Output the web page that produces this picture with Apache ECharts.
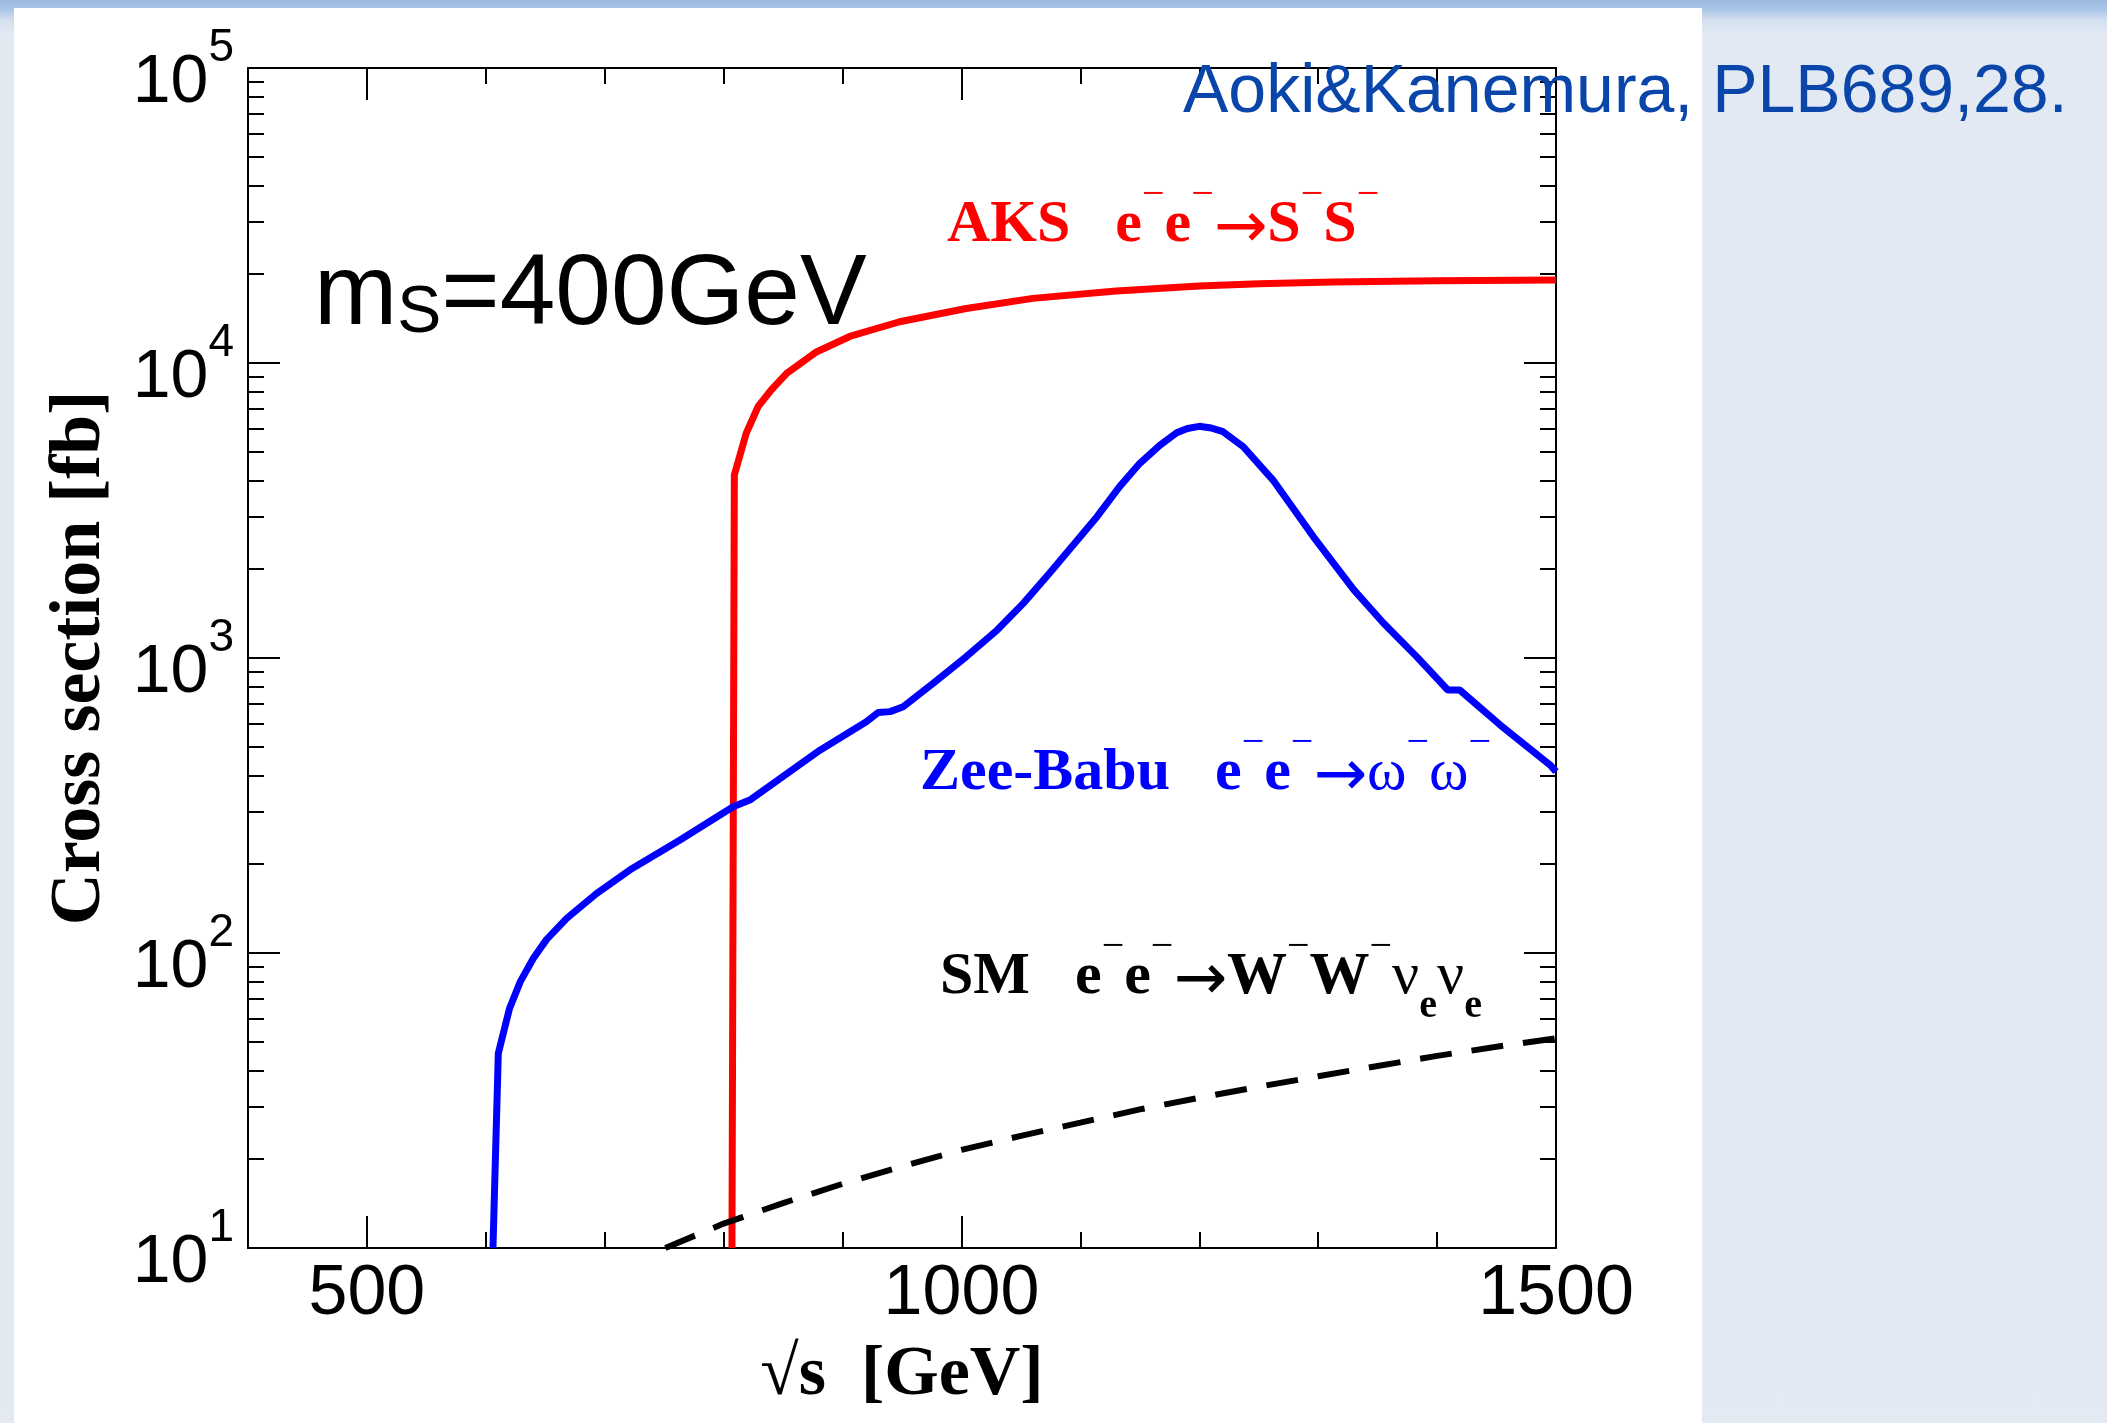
<!DOCTYPE html>
<html>
<head>
<meta charset="utf-8">
<script src="https://cdn.jsdelivr.net/npm/echarts@6/dist/echarts.min.js"></script>
<style>
	html, body { margin: 0; padding: 0; }
	body {
		width: 2107px; height: 1423px; overflow: hidden; position: relative;
		background: linear-gradient(to bottom, #9cbae2 0px, #a6c3e7 8px, #d3dfef 20px, #e2e9f3 34px, #e4eaf4 100%);
	}
	#panel { position: absolute; left: 14px; top: 8px; width: 1688px; height: 1415px; background: #fff; }
	#chart { position: absolute; left: 0; top: 0; width: 2107px; height: 1423px; }
</style>
</head>
<body>
<div id="panel"></div>
<div id="chart"></div>
<script>
/*
 * cross sections vs sqrt(s), m_S = 400 GeV
 */
var aksData = [[807, 10], [809, 4170], [819, 5780], [829, 7120], [840, 8100], [853, 9220], [878, 10900],
	[906, 12300], [948, 13800], [1004, 15300], [1060, 16560], [1130, 17550], [1200, 18250],
	[1250, 18550], [1312, 18800], [1400, 18990], [1500, 19100]];

var zeeBabuData = [[606, 10], [610.5, 45.7], [620, 65], [629, 80], [640, 96], [651, 111], [668, 131],
	[693, 159], [721, 191], [763, 241], [808, 313], [822, 330], [881, 487], [920, 608], [930, 653],
	[940, 658], [951, 684], [976, 820], [1004, 1010], [1030, 1244], [1052, 1532], [1074, 1937],
	[1094, 2415], [1114, 3014], [1133, 3810], [1150, 4570], [1167, 5270], [1181, 5800], [1190, 6000],
	[1200, 6100], [1210, 6020], [1220, 5850], [1237, 5200], [1262, 4010], [1296, 2575], [1330, 1702],
	[1355, 1312], [1383, 1009], [1409, 779], [1419, 779], [1453, 593], [1495, 434], [1500, 412]];

var smData = [[751, 10], [800, 12.1], [850, 14.2], [900, 16.5], [950, 18.9], [1000, 21.5], [1050, 24.0],
	[1100, 26.6], [1150, 29.5], [1200, 32.3], [1250, 35.2], [1300, 38.2], [1350, 41.4], [1400, 44.8],
	[1450, 48.1], [1500, 51.4]];

var xTickLabels = [500, 1000, 1500];
var yTickValues = [10, 100, 1000, 10000, 100000];
var yTickExps = ['1', '2', '3', '4', '5'];
var yMinorTicks = [20, 30, 40, 50, 60, 70, 80, 90, 200, 300, 400, 500, 600, 700, 800, 900,
	2000, 3000, 4000, 5000, 6000, 7000, 8000, 9000, 20000, 30000, 40000, 50000, 60000, 70000, 80000, 90000];

var sans = '"Liberation Sans", Arial, Helvetica, sans-serif';
var serif = '"Liberation Serif", "Times New Roman", serif';

function procRich(color) {
	return {
		m: { fontFamily: serif, fontWeight: 'bold', fontSize: 60, lineHeight: 60, fill: color },
		g: { fontFamily: serif, fontWeight: 'normal', fontSize: 60, lineHeight: 60, fill: color },
		r: { fontFamily: '"DejaVu Sans", sans-serif', fontWeight: 'normal', fontSize: 64, lineHeight: 64, padding: [10, 0, 0, 0], fill: color },
		u: { fontFamily: serif, fontWeight: 'normal', fontSize: 40, lineHeight: 40, padding: [0, 0, 60, 0], fill: color },
		d: { fontFamily: serif, fontWeight: 'bold', fontSize: 40, lineHeight: 40, padding: [60, 0, 0, 0], fill: color }
	};
}

function xAxisDef(pos, long) {
	return {
		type: 'value',
		position: pos,
		min: 400,
		max: 1500,
		interval: 100,
		axisLine: { show: !long, onZero: false, lineStyle: { color: '#000', width: 2 } },
		axisTick: long ? {
			show: true, inside: true, length: 32, customValues: xTickLabels,
			lineStyle: { color: '#000', width: 2 }
		} : {
			show: true, inside: true, length: 16,
			lineStyle: { color: '#000', width: 2 }
		},
		axisLabel: { show: false },
		splitLine: { show: false }
	};
}

function yAxisDef(pos, minor) {
	return {
		type: 'log',
		logBase: 10,
		position: pos,
		min: 10,
		max: 100000,
		axisLine: { show: !minor, onZero: false, lineStyle: { color: '#000', width: 2 } },
		axisTick: minor ? {
			show: true, inside: true, length: 16, customValues: yMinorTicks,
			lineStyle: { color: '#000', width: 2 }
		} : {
			show: true, inside: true, length: 32,
			lineStyle: { color: '#000', width: 2 }
		},
		axisLabel: { show: false },
		splitLine: { show: false },
		minorTick: { show: false },
		minorSplitLine: { show: false }
	};
}

var xMain = xAxisDef('bottom', false);
xMain.axisLabel = {
	show: true,
	margin: 12,
	color: '#000',
	fontFamily: sans,
	fontSize: 70,
	lineHeight: 70,
	formatter: function(v) {
		return xTickLabels.indexOf(v) >= 0 ? String(v) : '';
	}
};
xMain.name = '\u221As  [GeV]';
xMain.nameLocation = 'middle';
xMain.nameGap = 93;
xMain.nameTextStyle = { color: '#000', fontFamily: serif, fontWeight: 'bold', fontSize: 70, lineHeight: 70 };

var yMain = yAxisDef('left', false);
yMain.axisLabel = {
	show: true,
	margin: 14,
	showMinLabel: true,
	showMaxLabel: true,
	formatter: function(v) {
		var e = Math.round(Math.log(v) / Math.LN10);
		var i = yTickValues.indexOf(Math.pow(10, e));
		return '{b|10}{s|' + yTickExps[i] + '}';
	},
	rich: {
		b: { fontFamily: sans, fontSize: 68, lineHeight: 68, padding: [31, 0, 0, 0], color: '#000' },
		s: { fontFamily: sans, fontSize: 46, lineHeight: 46, padding: [0, 0, 40, 0], color: '#000' }
	}
};
yMain.name = 'Cross section [fb]';
yMain.nameLocation = 'middle';
yMain.nameRotate = 90;
yMain.nameGap = 132;
yMain.nameTextStyle = { color: '#000', fontFamily: serif, fontWeight: 'bold', fontSize: 72, lineHeight: 72 };

var ech = echarts.init(document.getElementById('chart'), null, { renderer: 'canvas' });
var option = {
	backgroundColor: 'transparent',
	animation: false,
	grid: {
		left: 248,
		top: 68,
		width: 1308,
		height: 1180,
		containLabel: false,
		outerBoundsMode: 'none'
	},
	xAxis: [xMain, xAxisDef('bottom', true), xAxisDef('top', false), xAxisDef('top', true)],
	yAxis: [yMain, yAxisDef('left', true), yAxisDef('right', false), yAxisDef('right', true)],
	series: [{
		name: 'AKS',
		type: 'line',
		data: aksData,
		showSymbol: false,
		symbol: 'none',
		lineStyle: { color: '#ff0000', width: 7 },
		z: 3
	}, {
		name: 'Zee-Babu',
		type: 'line',
		data: zeeBabuData,
		showSymbol: false,
		symbol: 'none',
		lineStyle: { color: '#0000ff', width: 7 },
		z: 3
	}, {
		name: 'SM',
		type: 'line',
		data: smData,
		showSymbol: false,
		symbol: 'none',
		lineStyle: { color: '#000', width: 6, type: [32, 20], cap: 'butt' },
		z: 3
	}],
	graphic: [{
		type: 'text',
		x: 314,
		y: 296,
		z: 100,
		style: {
			text: '{a|m}{s|S}{a|=400GeV}',
			verticalAlign: 'middle',
			align: 'left',
			rich: {
				a: { fontFamily: sans, fontSize: 100, lineHeight: 100, fill: '#000' },
				s: { fontFamily: sans, fontSize: 66, lineHeight: 66, padding: [36, 0, 0, 0], fill: '#000' }
			}
		}
	}, {
		type: 'text',
		x: 1183,
		y: 93,
		z: 100,
		style: {
			text: 'Aoki&Kanemura, PLB689,28.',
			fontFamily: sans,
			fontSize: 68,
			fill: '#0a46aa',
			verticalAlign: 'middle',
			align: 'left'
		}
	}, {
		type: 'text',
		x: 947,
		y: 225,
		z: 100,
		style: {
			text: '{m|AKS   e}{u|\u2212}{m|e}{u|\u2212}{r|\u2192}{m|S}{u|\u2212}{m|S}{u|\u2212}',
			verticalAlign: 'middle',
			align: 'left',
			rich: procRich('#ff0000')
		}
	}, {
		type: 'text',
		x: 920,
		y: 773,
		z: 100,
		style: {
			text: '{m|Zee-Babu   e}{u|\u2212}{m|e}{u|\u2212}{r|\u2192}{g|\u03C9}{u|\u2212}{g|\u03C9}{u|\u2212}',
			verticalAlign: 'middle',
			align: 'left',
			rich: procRich('#0000ff')
		}
	}, {
		type: 'text',
		x: 940,
		y: 977,
		z: 100,
		style: {
			text: '{m|SM   e}{u|\u2212}{m|e}{u|\u2212}{r|\u2192}{m|W}{u|\u2212}{m|W}{u|\u2212}{g|\u03BD}{d|e}{g|\u03BD}{d|e}',
			verticalAlign: 'middle',
			align: 'left',
			rich: procRich('#000')
		}
	}]
};
ech.setOption(option);
</script>
</body>
</html>
